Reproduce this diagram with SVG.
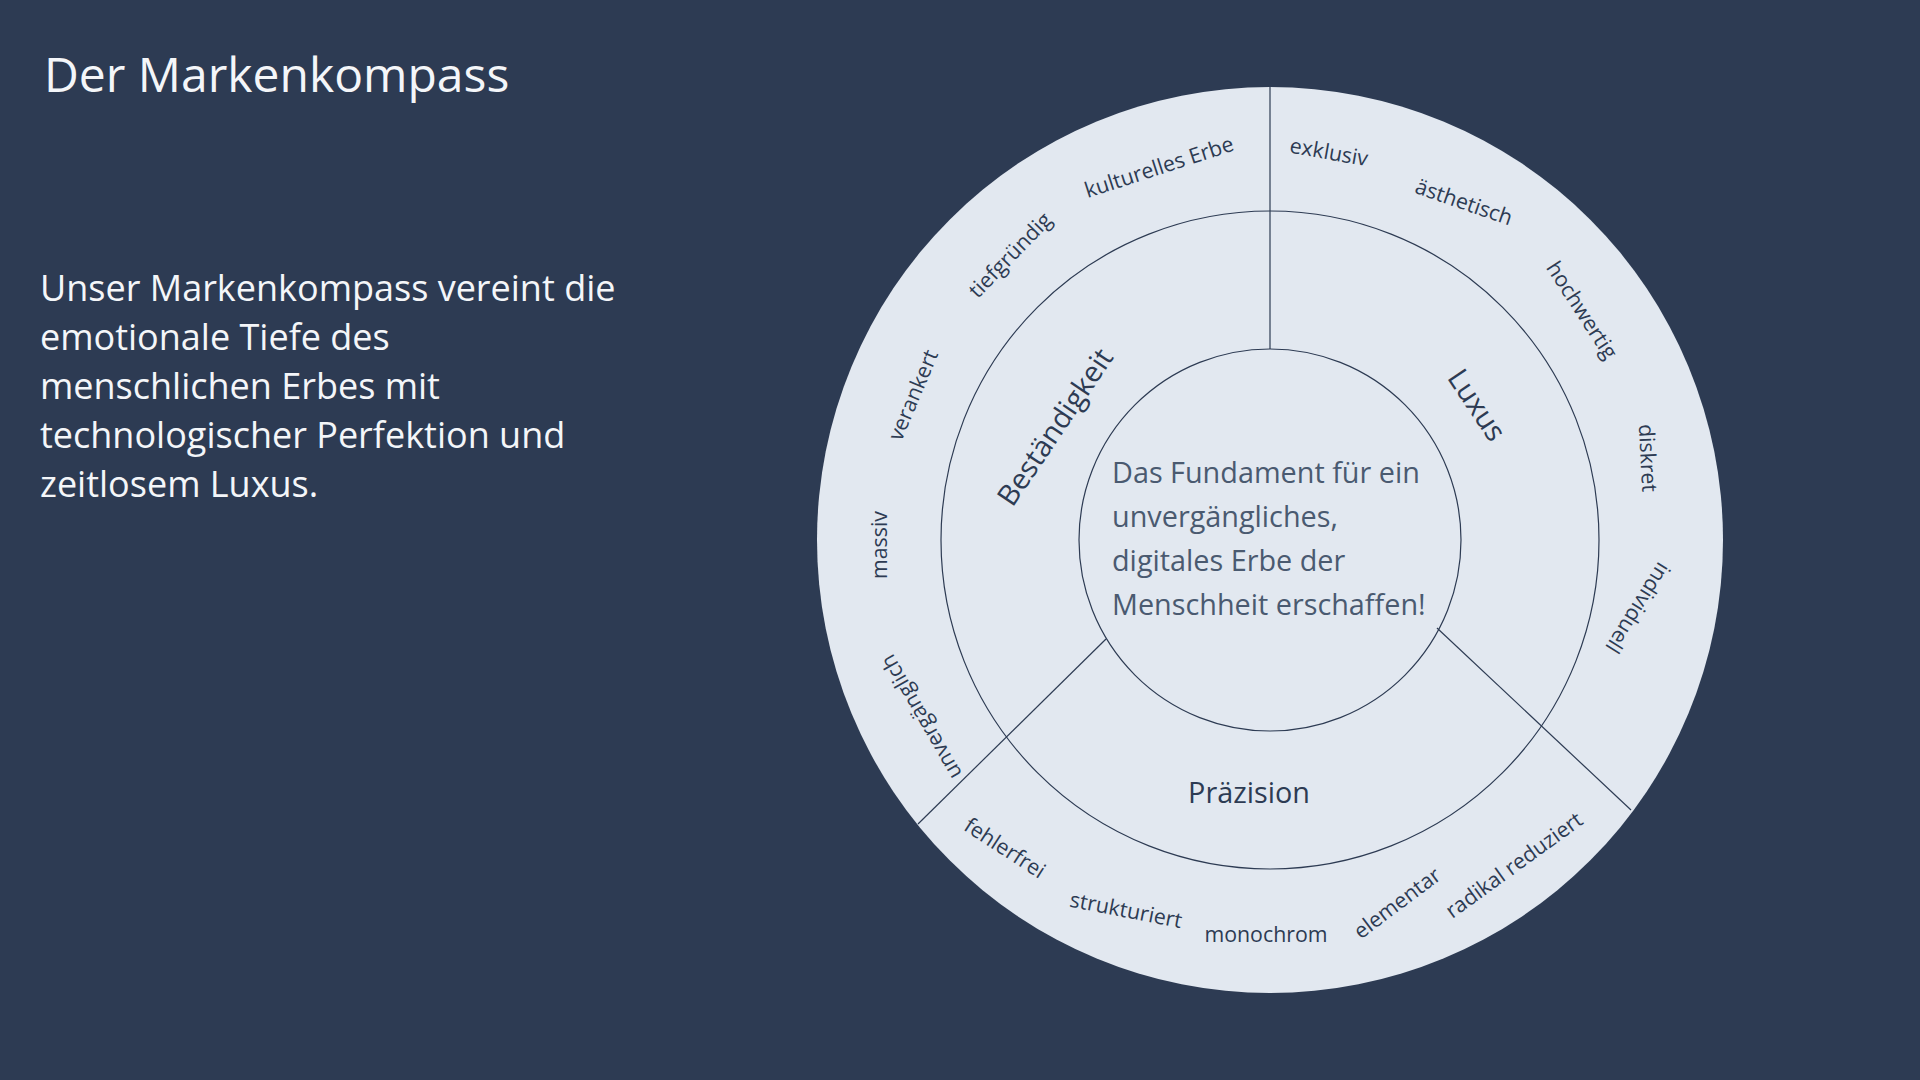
<svg xmlns="http://www.w3.org/2000/svg" width="1920" height="1080" viewBox="0 0 1920 1080">
<style>
  text { font-family: "Open Sans", "Noto Sans", "Liberation Sans", sans-serif; }
  .title { fill: #f4f6f9; font-size: 48px; }
  .para { fill: #f4f6f9; font-size: 36px; }
  .ring { fill: #e2e8f0; }
  .edge { fill: none; stroke: #2d3b53; stroke-width: 1.2; }
  .conn { stroke: #2d3b53; stroke-width: 1.2; fill: none; }
  .lbl { fill: #2d3b53; font-size: 21.33px; text-anchor: middle; }
  .sec { fill: #2d3b53; font-size: 28.8px; text-anchor: middle; }
  .core { fill: #4a5a70; font-size: 28.8px; }
</style>
<rect x="0" y="0" width="1920" height="1080" fill="#2d3b53"/>

<g id="title">
  <text class="title" x="44" y="92">Der Markenkompass</text>
</g>

<g id="description">
  <text class="para" x="40" y="301">Unser Markenkompass vereint die</text>
  <text class="para" x="40" y="350">emotionale Tiefe des</text>
  <text class="para" x="40" y="399">menschlichen Erbes mit</text>
  <text class="para" x="40" y="448">technologischer Perfektion und</text>
  <text class="para" x="40" y="497">zeitlosem Luxus.</text>
</g>

<g id="compass-rings">
  <circle class="ring" cx="1270" cy="540" r="453"/>
  <circle class="edge" cx="1270" cy="540" r="329"/>
  <circle class="edge" cx="1270" cy="540" r="191"/>
</g>

<g id="connectors">
  <line class="conn" x1="1270" y1="87" x2="1270" y2="349"/>
  <line class="conn" x1="1106" y1="639" x2="918" y2="824"/>
  <line class="conn" x1="1437" y1="628" x2="1631" y2="810"/>
</g>

<g id="core">
  <text class="core" x="1112" y="483">Das Fundament für ein</text>
  <text class="core" x="1112" y="527">unvergängliches,</text>
  <text class="core" x="1112" y="571">digitales Erbe der</text>
  <text class="core" x="1112" y="615">Menschheit erschaffen!</text>
</g>

<g id="sector-bestaendigkeit">
  <text class="sec" transform="translate(1055 427) rotate(-56)" dy="0.35em">Beständigkeit</text>
  <text class="lbl" transform="translate(1159 167) rotate(-18)" dy="0.35em">kulturelles Erbe</text>
  <text class="lbl" transform="translate(1010 255) rotate(-46)" dy="0.35em">tiefgründig</text>
  <text class="lbl" transform="translate(913 395) rotate(-67)" dy="0.35em">verankert</text>
  <text class="lbl" transform="translate(880 545) rotate(-90)" dy="0.35em">massiv</text>
  <text class="lbl" transform="translate(921 717) rotate(-120)" dy="0.35em">unvergänglich</text>
</g>

<g id="sector-luxus">
  <text class="sec" transform="translate(1477 405) rotate(56)" dy="0.35em">Luxus</text>
  <text class="lbl" transform="translate(1329 152) rotate(10)" dy="0.35em">exklusiv</text>
  <text class="lbl" transform="translate(1464 202) rotate(19)" dy="0.35em">ästhetisch</text>
  <text class="lbl" transform="translate(1582 310) rotate(57)" dy="0.35em">hochwertig</text>
  <text class="lbl" transform="translate(1648 458) rotate(87)" dy="0.35em">diskret</text>
  <text class="lbl" transform="translate(1638 608) rotate(122)" dy="0.35em">individuell</text>
</g>

<g id="sector-praezision">
  <text class="sec" x="1249" y="803">Präzision</text>
  <text class="lbl" transform="translate(1005 848) rotate(33)" dy="0.35em">fehlerfrei</text>
  <text class="lbl" transform="translate(1126 910) rotate(11)" dy="0.35em">strukturiert</text>
  <text class="lbl" x="1266" y="942">monochrom</text>
  <text class="lbl" transform="translate(1397 903) rotate(-37)" dy="0.35em">elementar</text>
  <text class="lbl" transform="translate(1514 865) rotate(-36)" dy="0.35em">radikal reduziert</text>
</g>
</svg>
